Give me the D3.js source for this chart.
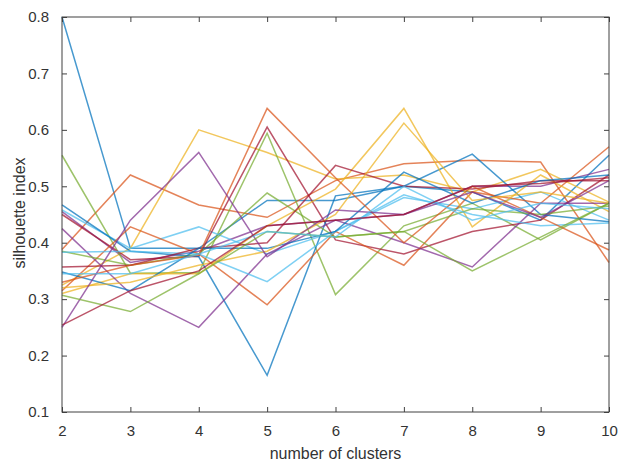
<!DOCTYPE html>
<html>
<head>
<meta charset="utf-8">
<script src="https://cdn.jsdelivr.net/npm/d3@7"></script>
<style>
  body { margin: 0; background: #fff; }
  text { font-family: "Liberation Sans", Arial, sans-serif; }
</style>
</head>
<body>
<div id="chart"></div>
<script>
// number of clusters on the x axis
const clusters = [2, 3, 4, 5, 6, 7, 8, 9, 10];
const yTicks = [0.1, 0.2, 0.3, 0.4, 0.5, 0.6, 0.7, 0.8];

// one silhouette curve per run
const blue1 = [0.80, 0.39, 0.39, 0.475, 0.475, 0.50, 0.49, 0.44, 0.555];
const orange1 = [0.388, 0.52, 0.467, 0.445, 0.51, 0.54, 0.546, 0.543, 0.365];
const yellow1 = [0.325, 0.39, 0.60, 0.56, 0.513, 0.52, 0.49, 0.53, 0.472];
const purple1 = [0.455, 0.365, 0.385, 0.43, 0.44, 0.45, 0.50, 0.50, 0.53];
const green1 = [0.555, 0.346, 0.347, 0.594, 0.308, 0.43, 0.47, 0.405, 0.47];
const cyan1 = [0.458, 0.39, 0.428, 0.38, 0.42, 0.48, 0.46, 0.49, 0.44];
const red1 = [0.45, 0.37, 0.376, 0.605, 0.405, 0.38, 0.42, 0.44, 0.52];
const blue2 = [0.467, 0.385, 0.375, 0.165, 0.483, 0.50, 0.557, 0.45, 0.437];
const orange2 = [0.315, 0.428, 0.38, 0.29, 0.42, 0.36, 0.49, 0.47, 0.57];
const yellow2 = [0.31, 0.345, 0.345, 0.43, 0.495, 0.638, 0.428, 0.52, 0.455];
const purple2 = [0.425, 0.31, 0.25, 0.38, 0.44, 0.40, 0.357, 0.47, 0.47];
const green2 = [0.385, 0.36, 0.38, 0.488, 0.41, 0.42, 0.46, 0.45, 0.465];
const cyan2 = [0.383, 0.385, 0.38, 0.331, 0.42, 0.485, 0.45, 0.43, 0.435];
const red2 = [0.357, 0.36, 0.39, 0.40, 0.537, 0.50, 0.495, 0.51, 0.51];
const blue3 = [0.348, 0.315, 0.39, 0.39, 0.42, 0.525, 0.47, 0.51, 0.52];
const orange3 = [0.33, 0.36, 0.378, 0.638, 0.515, 0.40, 0.50, 0.445, 0.387];
const yellow3 = [0.32, 0.33, 0.36, 0.385, 0.45, 0.612, 0.475, 0.49, 0.47];
const purple3 = [0.25, 0.44, 0.56, 0.375, 0.458, 0.45, 0.49, 0.445, 0.51];
const green3 = [0.307, 0.278, 0.345, 0.42, 0.41, 0.42, 0.35, 0.41, 0.47];
const cyan3 = [0.345, 0.345, 0.38, 0.42, 0.41, 0.50, 0.44, 0.47, 0.46];
const red3 = [0.254, 0.315, 0.35, 0.43, 0.44, 0.45, 0.50, 0.505, 0.515];

const runs = [blue1, orange1, yellow1, purple1, green1, cyan1, red1,
              blue2, orange2, yellow2, purple2, green2, cyan2, red2,
              blue3, orange3, yellow3, purple3, green3, cyan3, red3];

// matlab default colour order
const colors = ["#0072BD", "#D95319", "#EDB120", "#7E2F8E", "#77AC30", "#4DBEEE", "#A2142F"];

const w = 619, h = 463;
const m = { left: 62, right: 10, top: 17, bottom: 51 };

const svg = d3.select("#chart").append("svg")
    .attr("width", w)
    .attr("height", h);

const x = d3.scaleLinear().domain([2, 10]).range([m.left, w - m.right]);
const y = d3.scaleLinear().domain([0.1, 0.8]).range([h - m.bottom, m.top]);

const line = d3.line()
    .x((d, i) => x(clusters[i]))
    .y(d => y(d));

svg.append("g")
    .selectAll("path")
    .data(runs)
    .enter()
    .append("path")
    .attr("d", line)
    .attr("fill", "none")
    .attr("stroke", (d, i) => colors[i % colors.length])
    .attr("stroke-opacity", 0.72)
    .attr("stroke-width", 1.5)
    .attr("stroke-linejoin", "miter");

// box + inward ticks like matlab
const axisColor = "#404040";
const styleAxis = g => {
    g.select(".domain").remove();
    g.selectAll(".tick line").attr("stroke", axisColor);
    g.selectAll(".tick text").attr("fill", "#333").style("font-size", "15px");
};

svg.append("g")
    .attr("transform", `translate(0,${h - m.bottom})`)
    .call(d3.axisBottom(x).tickValues(clusters).tickSize(-5).tickPadding(13).tickFormat(d3.format("d")))
    .call(styleAxis);

svg.append("g")
    .attr("transform", `translate(0,${m.top})`)
    .call(d3.axisTop(x).tickValues(clusters).tickSize(-5).tickFormat(""))
    .call(styleAxis);

svg.append("g")
    .attr("transform", `translate(${m.left},0)`)
    .call(d3.axisLeft(y).tickValues(yTicks).tickSize(-5).tickPadding(13).tickFormat(d3.format(".1f")))
    .call(styleAxis);

svg.append("g")
    .attr("transform", `translate(${w - m.right},0)`)
    .call(d3.axisRight(y).tickValues(yTicks).tickSize(-5).tickFormat(""))
    .call(styleAxis);

svg.append("rect")
    .attr("x", m.left)
    .attr("y", m.top)
    .attr("width", w - m.left - m.right)
    .attr("height", h - m.top - m.bottom)
    .attr("fill", "none")
    .attr("stroke", axisColor)
    .attr("stroke-width", 1);

svg.append("text")
    .attr("x", (m.left + w - m.right) / 2)
    .attr("y", 459)
    .attr("text-anchor", "middle")
    .attr("fill", "#333")
    .style("font-size", "16px")
    .text("number of clusters");

svg.append("text")
    .attr("transform", "rotate(-90)")
    .attr("x", -213)
    .attr("y", 25)
    .attr("text-anchor", "middle")
    .attr("fill", "#333")
    .style("font-size", "16px")
    .text("silhouette index");
</script>
</body>
</html>
